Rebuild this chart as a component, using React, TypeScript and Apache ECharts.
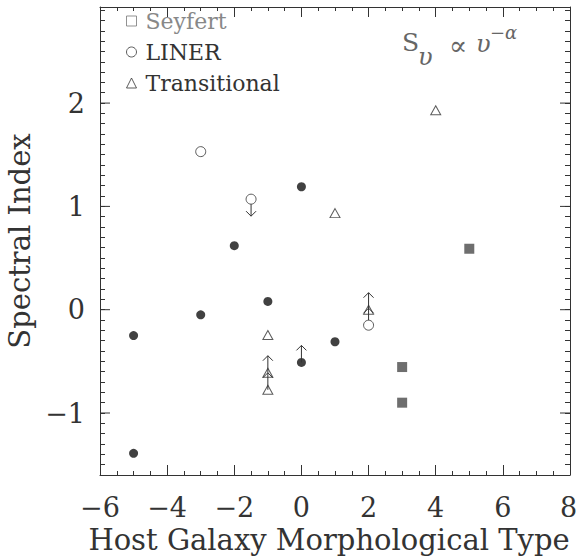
import React, { useEffect, useRef } from "react";
import * as echarts from "echarts";

// ---- data ----
const otherPoints: [number, number][] = [
  [-5, -0.25], [-5, -1.39], [-3, -0.05], [-2, 0.62], [-1, 0.08], [0, 1.19], [0, -0.51], [1, -0.31],
];
const seyfertPoints: [number, number][] = [[3, -0.555], [3, -0.9], [5, 0.59]];
const linerPoints: [number, number][] = [[-3, 1.53], [-1.5, 1.07], [2, -0.15]];
const transitionalPoints: [number, number][] = [
  [4, 1.93], [1, 0.935], [-1, -0.245], [-1, -0.61], [-1, -0.775], [2, 0],
];
// limits (arrows)
const linerUpperLimits: [number, number][] = [[-1.5, 1.07]];
const linerLowerLimits: [number, number][] = [[2, -0.15]];
const transitionalLowerLimits: [number, number][] = [[-1, -0.61], [-1, -0.775], [2, 0]];
const otherLowerLimits: [number, number][] = [[0, -0.51]];

const xRange = [-6, 8];
const yRange = [-1.6, 2.93];
const yMajorTicks = [-1, 0, 1, 2];
const legendNames = ["Seyfert", "LINER", "Transitional"];

const FONT = "DejaVu Serif";
const INK = "#333";

const fmt = (v: number) => {
  const r = Math.round(v);
  if (Math.abs(v - r) > 1e-6) return "";
  return r < 0 ? "\u2212" + Math.abs(r) : String(r);
};
const fmtX = (v: number) => {
  const s = fmt(v);
  if (Math.abs(v - xRange[1]) < 1e-6) return "{edge|" + s + "}";
  return s;
};

function arrowSeries(name: string, pts: [number, number][], dir: number, startOffset: number) {
  return {
    type: "custom",
    name,
    silent: true,
    clip: false,
    z: 5,
    data: pts.map((p) => [p[0], p[1]]),
    renderItem: (_params: any, api: any) => {
      const c = api.coord([api.value(0), api.value(1)]);
      const len = 17;
      const tipY = c[1] - dir * len;
      const startY = c[1] - dir * startOffset;
      return {
        type: "group",
        children: [
          {
            type: "line",
            shape: { x1: c[0], y1: startY, x2: c[0], y2: tipY },
            style: { stroke: INK, lineWidth: 1 },
          },
          {
            type: "polyline",
            shape: {
              points: [
                [c[0] - 5, tipY + dir * 5],
                [c[0], tipY],
                [c[0] + 5, tipY + dir * 5],
              ],
            },
            style: { stroke: INK, fill: "none", lineWidth: 1 },
          },
        ],
      };
    },
  };
}

export default function App() {
  const ref = useRef<HTMLDivElement>(null);
  useEffect(() => {
    if (!ref.current) return;
    const chart = echarts.init(ref.current, undefined, { renderer: "svg" });

    const xAxisBase = {
      type: "value",
      min: xRange[0],
      max: xRange[1],
      interval: 2,
      axisLine: { show: true, onZero: false, lineStyle: { color: INK, width: 1 } },
      axisTick: { show: true, inside: true, length: 10, lineStyle: { color: INK } },
      minorTick: { show: true, splitNumber: 4, length: 4, lineStyle: { color: INK } },
      splitLine: { show: false },
      minorSplitLine: { show: false },
    };
    const yAxisBase = {
      type: "value",
      min: yRange[0],
      max: yRange[1],
      interval: 0.1,
      axisLine: { show: true, onZero: false, lineStyle: { color: INK, width: 1 } },
      axisTick: { show: true, inside: true, length: 5, lineStyle: { color: INK } },
      splitLine: { show: false },
    };

    const option: any = {
      animation: false,
      backgroundColor: "#fff",
      grid: { left: 100, right: 8, top: 7, bottom: 82, containLabel: false, outerBoundsMode: "none" },
      xAxis: [
        {
          ...xAxisBase,
          position: "bottom",
          axisLabel: {
            formatter: fmtX,
            fontFamily: FONT,
            fontSize: 27,
            color: INK,
            margin: 19,
            rich: { edge: { fontFamily: FONT, fontSize: 27, color: INK, padding: [0, 3, 0, 0] } },
          },
          name: "Host Galaxy Morphological Type",
          nameLocation: "middle",
          nameGap: 48,
          nameTextStyle: { fontFamily: FONT, fontSize: 29, color: INK, padding: [0, 12, 0, 0] },
        },
        { ...xAxisBase, position: "top", axisLabel: { show: false } },
      ],
      yAxis: [
        {
          ...yAxisBase,
          position: "left",
          axisLabel: { formatter: fmt, fontFamily: FONT, fontSize: 27, color: INK, margin: 15 },
          name: "Spectral Index",
          nameLocation: "middle",
          nameGap: 62,
          nameTextStyle: { fontFamily: FONT, fontSize: 29, color: INK },
        },
        { ...yAxisBase, position: "right", axisLabel: { show: false } },
      ],
      legend: {
        orient: "vertical",
        left: 126,
        top: 10,
        padding: 0,
        itemWidth: 10,
        itemHeight: 10,
        itemGap: 9,
        selectedMode: false,
        textStyle: { fontFamily: FONT, fontSize: 22, color: INK, padding: [0, 0, 0, 4] },
        data: [
          {
            name: legendNames[0],
            icon: "rect",
            itemStyle: { color: "#fff", borderColor: "#777", borderWidth: 1 },
            textStyle: { color: "#888" },
          },
          {
            name: legendNames[1],
            icon: "circle",
            itemStyle: { color: "#fff", borderColor: INK, borderWidth: 1 },
          },
          {
            name: legendNames[2],
            icon: "triangle",
            itemStyle: { color: "#fff", borderColor: INK, borderWidth: 1 },
          },
        ],
      },
      graphic: [
        { type: "text", x: 402, y: 42, style: { text: "S", fontFamily: FONT, fontSize: 25, fill: "#666", textVerticalAlign: "middle", verticalAlign: "middle" } },
        { type: "text", x: 418, y: 57, style: { text: "\u03c5", fontFamily: FONT, fontStyle: "italic", fontSize: 24, fill: "#666", textVerticalAlign: "middle", verticalAlign: "middle" } },
        { type: "text", x: 449, y: 45, style: { text: "\u221d", fontFamily: FONT, fontSize: 27, fill: "#666", textVerticalAlign: "middle", verticalAlign: "middle" } },
        { type: "text", x: 476, y: 44, style: { text: "\u03c5", fontFamily: FONT, fontStyle: "italic", fontSize: 24, fill: "#666", textVerticalAlign: "middle", verticalAlign: "middle" } },
        { type: "text", x: 490, y: 32, style: { text: "\u2212\u03b1", fontFamily: FONT, fontStyle: "italic", fontSize: 18, fill: "#666", textVerticalAlign: "middle", verticalAlign: "middle" } },
      ],
      series: [
        {
          type: "custom",
          name: "yMajorTicks",
          silent: true,
          clip: false,
          z: 3,
          data: yMajorTicks.map((v) => [xRange[0], v]),
          renderItem: (_p: any, api: any) => {
            const v = api.value(1);
            const l = api.coord([xRange[0], v]);
            const r = api.coord([xRange[1], v]);
            return {
              type: "group",
              children: [
                { type: "line", shape: { x1: l[0], y1: l[1], x2: l[0] + 10, y2: l[1] }, style: { stroke: INK, lineWidth: 1 } },
                { type: "line", shape: { x1: r[0] - 10, y1: r[1], x2: r[0], y2: r[1] }, style: { stroke: INK, lineWidth: 1 } },
              ],
            };
          },
        },
        {
          type: "scatter",
          name: "Other",
          symbol: "circle",
          symbolSize: 9,
          itemStyle: { color: "#111" },
          data: otherPoints,
          z: 4,
        },
        {
          type: "scatter",
          name: "Seyfert",
          symbol: "rect",
          symbolSize: 10,
          itemStyle: { color: "#4a4a4a" },
          data: seyfertPoints,
          z: 4,
        },
        {
          type: "scatter",
          name: "LINER",
          symbol: "circle",
          symbolSize: 10,
          itemStyle: { color: "#fff", borderColor: INK, borderWidth: 1 },
          data: linerPoints,
          z: 4,
        },
        {
          type: "scatter",
          name: "Transitional",
          symbol: "triangle",
          symbolSize: [10, 9],
          itemStyle: { color: "rgba(0,0,0,0)", borderColor: INK, borderWidth: 1 },
          data: transitionalPoints,
          z: 4,
        },
        arrowSeries("linerUpper", linerUpperLimits, -1, 5),
        arrowSeries("linerLower", linerLowerLimits, 1, 5),
        arrowSeries("transLower", transitionalLowerLimits, 1, 0),
        arrowSeries("otherLower", otherLowerLimits, 1, 0),
      ],
    };
    chart.setOption(option);
    return () => chart.dispose();
  }, []);

  return (
    <div
      ref={ref}
      style={{ position: "absolute", left: 0, top: 0, width: 578, height: 557, background: "#fff" }}
    />
  );
}
